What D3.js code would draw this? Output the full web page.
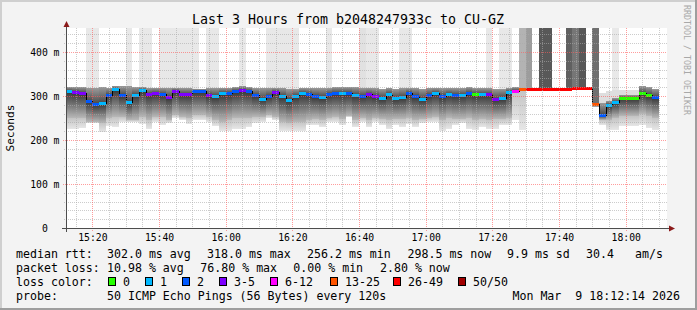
<!DOCTYPE html>
<html>
<head>
<meta charset="utf-8">
<script src="https://cdn.jsdelivr.net/npm/d3@7"></script>
<style>
  html, body { margin: 0; padding: 0; background: #f3f3f3; }
  svg { display: block; font-family: "DejaVu Sans Mono", monospace; }
  text { white-space: pre; }
</style>
</head>
<body>
<svg id="chart"></svg>
<script>
// time frame of the graph, one sample every 2 minutes (probe every 120s)
const graphStart = new Date(2026, 2, 9, 15, 12, 14);
const graphEnd = new Date(2026, 2, 9, 18, 12, 14);
const firstStepEnd = new Date(2026, 2, 9, 15, 14, 0);
const stepMinutes = 2;

// median rtt per step (ms)
const median = [312,309,307,289,281,285,303,317,303,286,
  303,314,305,307.5,304,298.5,312,305,305,312,
  312,303,301,307.5,307.5,312,314,312,303,293,
  299,309,301,292,301,307.5,305,301,298.5,305,
  307.5,307.5,307.5,301.5,301,305,301,295.5,305,295.5,
  298.5,307.5,299,294,303,307.5,301,304,303,303,
  307.5,305,305,305,294,295.5,309,312,316.5,316.5,
  316.5,316.5,316.5,316.5,316.5,316.5,318,318,318,282.5,
  256.2,280,287,295.5,295.5,295.5,307.5,303,298.5];

// loss bucket per step (index into lossLabels)
const lossBucket = [1,3,3,2,2,1,2,1,2,1,
  1,1,3,3,2,3,3,3,3,2,
  2,3,1,1,2,2,3,2,2,1,
  2,3,1,1,1,1,2,2,1,2,
  2,1,2,1,2,3,3,1,1,1,
  1,2,2,1,2,1,2,1,2,1,
  2,0,1,3,3,1,1,4,5,6,
  6,6,6,6,6,6,6,6,6,5,
  2,1,1,0,0,0,0,0,2];

// smoke: outer top, dark core top, dark core bottom, outer bottom (ms)
const smokeMax = [320,320,320,318,318,320,318.5,323.5,323.5,322,
  321,320.5,318.5,318,317.5,317.5,319,317.5,317.5,317,
  317,317.5,317.5,319,319,321,323.5,321,317.5,317.5,
  317.5,319,317.5,316,316,317.5,319,318,318,319,
  320,321,321,321,319,318,318,317,318,317,
  318,319,318,317,318,319,318,319,318,319,
  320,319,319,318,317,317,318,320,316.5,316.5,
  316.5,316.5,316.5,316.5,316.5,316.5,318,318,318,282.5,
  306,311,313,313,313,313,322,321,317];
const smokeUpper = [320,320,320,318,318,320,318.5,323.5,323.5,322,
  321,320.5,318.5,318,317.5,317.5,319,317.5,317.5,317,
  317,317.5,317.5,319,319,321,323.5,321,317.5,317.5,
  317.5,319,317.5,316,316,317.5,319,318,318,319,
  320,321,321,321,319,318,318,317,318,317,
  318,319,318,317,318,319,318,319,318,319,
  320,319,319,318,317,317,318,320,316.5,316.5,
  316.5,316.5,316.5,316.5,316.5,316.5,318,318,318,282.5,
  285,289,296,303,303,303,322,321,317];
const smokeLower = [249,249,249,240,240,238,249,253,253,245,
  245,253,245,253,253,245,257,253,249,257,
  257,253,245,242,245,249,249,249,253,253,
  257,253,242,238,242,242,245,247,245,250,
  252,247,255,245,250,245,250,247,245,247,
  247,250,245,247,250,252,245,250,247,247,
  250,245,247,245,247,247,250,312,316.5,316.5,
  316.5,316.5,316.5,316.5,316.5,316.5,318,318,318,276,
  245,246,250,255,255,255,258,255,250];
const smokeMin = [225,226,228,239,239,219,232,230,242,240,
  242,236,225,242,234,238,249,245,236,245,
  245,242,232,220,220,226,226,230,238,242,
  249,245,220,220,220,220,234,234,230,242,
  242,234,253,230,242,230,242,234,226,234,
  230,236,230,238,242,242,220,226,234,238,
  226,222,230,226,226,234,234,245,223,316.5,
  316.5,316.5,316.5,316.5,316.5,316.5,318,318,318,274,
  235,223,223,232,232,232,235,227,223];
// pings (of 50) above the top of the scale
const overRange = [0,0,0,1,1,0,0,0,0,1,
  0,1,1,0,1,1,1,1,1,1,
  0,1,1,0,0,0,1,0,0,0,
  1,1,1,1,1,0,0,0,0,1,
  0,0,0,0,2,1,1,0,0,0,
  1,1,0,0,0,0,0,0,0,0,
  0,0,0,1,0,1,1,0,8,11,
  0,20,20,0,0,19,16,20,0,17,
  0,0,1,0,0,0,0,0,0];

const yTicks = [0, 100, 200, 300, 400];
const lossLabels = ["0", "1", "2", "3-5", "6-12", "13-25", "26-49", "50/50"];
const lossColors = ["#26ff00", "#00b8ff", "#0059ff", "#7e00ff", "#ff00ff", "#ff5500", "#ff0000", "#a10000"];

const title = "Last 3 Hours from b2048247933c to CU-GZ";
const rowLabels = ["median rtt:", "packet loss:", "loss color:", "probe:"];
const rttStats = ["302.0 ms avg", "318.0 ms max", "256.2 ms min", "298.5 ms now", "9.9 ms sd", "30.4", "am/s"];
const lossStats = ["10.98 % avg", "76.80 % max", "0.00 % min", "2.80 % now"];
const probeText = "50 ICMP Echo Pings (56 Bytes) every 120s";
const stampText = "Mon Mar  9 18:12:14 2026";

// ---- layout ----
const W = 697, H = 310;
const plotL = 67, plotR = 667, plotT = 28, plotB = 228;

const svg = d3.select("#chart").attr("width", W).attr("height", H);

svg.append("rect").attr("width", W).attr("height", H).attr("fill", "#f3f3f3");
svg.append("path").attr("d", `M1,${H} V1 H${W}`).attr("fill", "none")
  .attr("stroke", "#cfcfcf").attr("stroke-width", 2);
svg.append("path").attr("d", `M0,${H - 1} H${W - 1} V0`).attr("fill", "none")
  .attr("stroke", "#9e9e9e").attr("stroke-width", 2);

const x = d3.scaleTime().domain([graphStart, graphEnd]).range([66.5, 666.5]);
const y = d3.scaleLinear().domain([0, 454.5]).range([plotB, plotT]);
const shade = d3.scaleLinear().domain([0, 25]).range([240, 50]);

const defs = svg.append("defs");
defs.append("clipPath").attr("id", "plot-clip").append("rect")
  .attr("x", plotL).attr("y", plotT).attr("width", plotR - plotL).attr("height", plotB - plotT);
function gradient(id, stops) {
  const g = defs.append("linearGradient").attr("id", id)
    .attr("x1", 0).attr("y1", 0).attr("x2", 0).attr("y2", 1);
  stops.forEach(s => g.append("stop").attr("offset", s[0]).attr("stop-color", s[1]));
}
gradient("g-top", [[0, "#9a9a9a"], [1, "#4a4a4a"]]);
gradient("g-core", [[0, "#333333"], [0.45, "#6e6e6e"], [1, "#b8b8b8"]]);
gradient("g-light", [[0, "#c4c4c4"], [1, "#e6e6e6"]]);

svg.append("rect").attr("x", plotL).attr("y", plotT).attr("width", plotR - plotL)
  .attr("height", plotB - plotT).attr("fill", "#ffffff");

const steps = median.map((m, i) => {
  const t1 = d3.timeMinute.offset(firstStepEnd, stepMinutes * i);
  const t0 = d3.timeMinute.offset(t1, -stepMinutes);
  return {
    x0: Math.round(x(t0)), x1: Math.round(x(t1)),
    med: m, loss: lossBucket[i],
    max: smokeMax[i], upper: smokeUpper[i], lower: smokeLower[i], min: smokeMin[i],
    over: overRange[i]
  };
});

const plot = svg.append("g").attr("clip-path", "url(#plot-clip)");
const smoke = plot.append("g").attr("shape-rendering", "crispEdges");

function band(sel, hi, lo, fill) {
  sel.append("rect")
    .attr("x", d => d.x0).attr("width", d => d.x1 - d.x0)
    .attr("y", d => Math.round(y(hi(d))))
    .attr("height", d => Math.max(0, Math.round(y(lo(d))) - Math.round(y(hi(d)))))
    .attr("fill", fill);
}

const cols = smoke.selectAll("g").data(steps).join("g");
band(cols.filter(d => d.over > 0), () => 454.5, d => d.max, d => {
  const s = Math.round(shade(d.over));
  return d3.rgb(s, s, s).formatHex();
});
band(cols, d => d.max, d => d.min, "#dedede");
band(cols, d => d.lower, d => d.min, "url(#g-light)");
band(cols, d => d.upper, d => d.med, "url(#g-top)");
band(cols, d => d.med, d => d.lower, "url(#g-core)");

// grid on top of the smoke
const grid = svg.append("g").attr("shape-rendering", "crispEdges").attr("fill", "none");
const minorTimes = d3.timeMinute.every(5).range(graphStart, graphEnd).filter(t => t.getMinutes() % 20 !== 0);
const majorTimes = d3.timeMinute.every(20).range(graphStart, graphEnd);
const px = v => Math.round(v) + 0.5;

grid.selectAll(".vmin").data(minorTimes).join("line")
  .attr("x1", d => px(x(d))).attr("x2", d => px(x(d)))
  .attr("y1", plotT).attr("y2", plotB + 2)
  .attr("stroke", "#aaaaaa").attr("stroke-opacity", 0.6).attr("stroke-dasharray", "1,1");
grid.selectAll(".hmin").data(d3.range(20, 454, 20).filter(v => v % 100 !== 0)).join("line")
  .attr("x1", plotL - 3).attr("x2", plotR)
  .attr("y1", d => px(y(d))).attr("y2", d => px(y(d)))
  .attr("stroke", "#aaaaaa").attr("stroke-opacity", 0.6).attr("stroke-dasharray", "1,1");
grid.selectAll(".vmaj").data(majorTimes).join("line")
  .attr("x1", d => px(x(d))).attr("x2", d => px(x(d)))
  .attr("y1", plotT).attr("y2", plotB + 4)
  .attr("stroke", "#ff5a5a").attr("stroke-opacity", 0.6).attr("stroke-dasharray", "1,1");
grid.selectAll(".hmaj").data(yTicks.filter(v => v > 0)).join("line")
  .attr("x1", plotL - 4).attr("x2", plotR)
  .attr("y1", d => px(y(d))).attr("y2", d => px(y(d)))
  .attr("stroke", "#ff5a5a").attr("stroke-opacity", 0.6).attr("stroke-dasharray", "1,1");

// median: black step line, then loss coloured segments
const medPts = [];
steps.forEach(d => { medPts.push([d.x0, px(y(d.med))], [d.x1, px(y(d.med))]); });
plot.append("path").attr("d", d3.line()(medPts)).attr("fill", "none")
  .attr("stroke", "#000").attr("stroke-width", 1).attr("shape-rendering", "crispEdges");
plot.append("g").selectAll("line").data(steps).join("line")
  .attr("x1", d => d.x0).attr("x2", d => d.x1)
  .attr("y1", d => px(y(d.med))).attr("y2", d => px(y(d.med)))
  .attr("stroke", d => lossColors[d.loss]).attr("stroke-width", 3)
  .attr("shape-rendering", "crispEdges");

// axes with arrows
const axisCol = "#4d4d4d", arrowCol = "#8b1a1a";
svg.append("line").attr("x1", 66.5).attr("x2", 66.5).attr("y1", plotB + 4).attr("y2", 24)
  .attr("stroke", axisCol).attr("shape-rendering", "crispEdges");
svg.append("line").attr("x1", 62).attr("x2", 671).attr("y1", 228.5).attr("y2", 228.5)
  .attr("stroke", axisCol).attr("shape-rendering", "crispEdges");
svg.append("path").attr("d", "M63.5,27 L69.5,27 L66.5,21 Z").attr("fill", arrowCol);
svg.append("path").attr("d", "M669,225.5 L669,231.5 L675,228.5 Z").attr("fill", arrowCol);

// tick labels
const xAxis = svg.append("g").attr("transform", `translate(0,${plotB})`)
  .call(d3.axisBottom(x).tickValues(majorTimes).tickFormat(d3.timeFormat("%H:%M"))
    .tickSize(0).tickPadding(6));
const yAxis = svg.append("g").attr("transform", "translate(66.5,0)")
  .call(d3.axisLeft(y).tickValues(yTicks).tickFormat(d => d ? d + " m" : "0\u00a0\u00a0")
    .tickSize(0).tickPadding(7));
[xAxis, yAxis].forEach(a => {
  a.select(".domain").remove();
  a.selectAll("text").attr("font-family", "DejaVu Sans Mono").attr("font-size", "9.75px").attr("fill", "#000");
});

svg.append("text").attr("transform", "translate(14,128) rotate(-90)")
  .attr("text-anchor", "middle").attr("font-size", "11.1px").text("Seconds");

svg.append("text").attr("x", 348).attr("y", 24).attr("text-anchor", "middle")
  .attr("font-size", "13.3px").text(title);

svg.append("text").attr("transform", "translate(683.7,5) rotate(90)")
  .attr("font-size", "8.3px").attr("fill", "#a8a8a8").text("RRDTOOL / TOBI OETIKER");

// legend
const legend = svg.append("g").attr("font-size", "11.6px").attr("fill", "#000");
const rowY = [258, 272, 286, 300];
rowLabels.forEach((t, i) => legend.append("text").attr("x", 16).attr("y", rowY[i]).text(t));
const rttX = [107, 207, 307, 407.5, 507, 586, 635];
rttStats.forEach((t, i) => legend.append("text").attr("x", rttX[i]).attr("y", rowY[0]).text(t));
const lossX = [107, 200.3, 293.3, 380];
lossStats.forEach((t, i) => legend.append("text").attr("x", lossX[i]).attr("y", rowY[1]).text(t));
const boxX = [108.5, 145.5, 182.5, 219.5, 270.5, 330.5, 393.5, 458.5];
lossLabels.forEach((t, i) => {
  legend.append("rect").attr("x", boxX[i]).attr("y", 277.5).attr("width", 7).attr("height", 8)
    .attr("fill", lossColors[i]).attr("stroke", "#000").attr("shape-rendering", "crispEdges");
  legend.append("text").attr("x", boxX[i] + 14.5).attr("y", rowY[2]).text(t);
});
legend.append("text").attr("x", 107).attr("y", rowY[3]).text(probeText);
legend.append("text").attr("x", 680).attr("y", rowY[3]).attr("text-anchor", "end")
  .attr("xml:space", "preserve").text(stampText);
</script>
</body>
</html>
